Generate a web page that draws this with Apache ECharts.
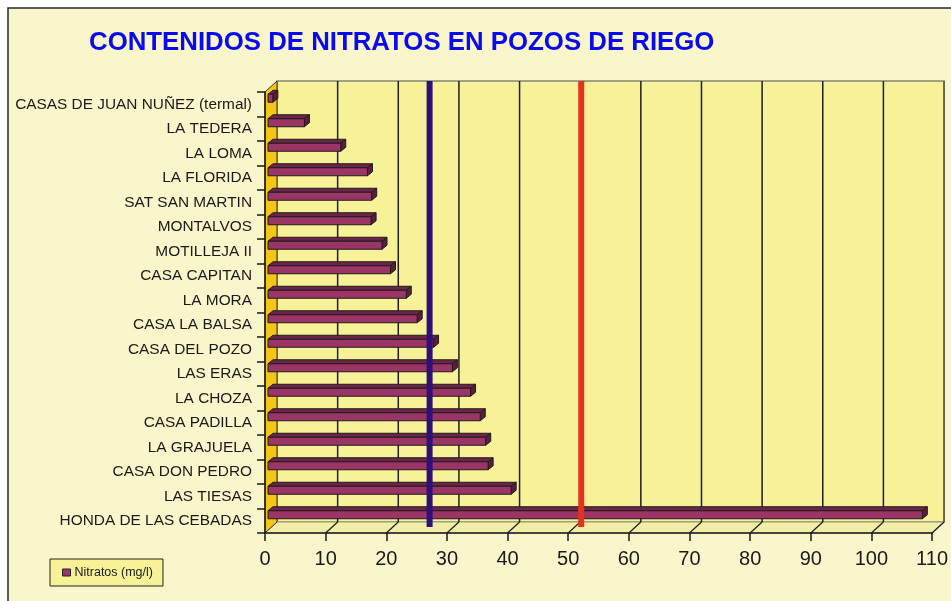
<!DOCTYPE html>
<html>
<head>
<meta charset="utf-8">
<script src="https://cdn.jsdelivr.net/npm/echarts@6/dist/echarts.min.js"></script>
<style>
  html, body { margin: 0; padding: 0; background: #fff; overflow: hidden; }
  #chart { width: 951px; height: 601px; }
</style>
</head>
<body>
<div id="chart"></div>
<script>
// pozos, de arriba abajo
const categories = [
  'CASAS DE JUAN NUÑEZ (termal)', 'LA TEDERA', 'LA LOMA', 'LA FLORIDA',
  'SAT SAN MARTIN', 'MONTALVOS', 'MOTILLEJA II', 'CASA CAPITAN', 'LA MORA',
  'CASA LA BALSA', 'CASA DEL POZO', 'LAS ERAS', 'LA CHOZA', 'CASA PADILLA',
  'LA GRAJUELA', 'CASA DON PEDRO', 'LAS TIESAS', 'HONDA DE LAS CEBADAS'
]
// nitratos (mg/l)
const nitratos = [
  0.8, 6, 12, 16.4, 17.1, 17, 18.8, 20.2, 22.8,
  24.6, 27.3, 30.4, 33.4, 35, 35.9, 36.3, 40.1, 107.9
]
// lineas de referencia (nivel guia y limite)
const guideLevels = [25, 50]
const guideColors = ['#2E1078', '#E3331F']

const X_MIN = 0, X_MAX = 110, X_STEP = 10

// profundidad del "3D"
const DX = 12, DY = -11
const BAR_SHIFT_X = 3, BAR_SHIFT_Y = -6, BAR_H = 8
const BAR_DX = 5, BAR_DY = -4

const FONT = "'Liberation Sans', Arial, sans-serif"

const chart = echarts.init(document.getElementById('chart'))

// paredes, suelo y rejilla
function renderScene(params, api) {
  const cs = params.coordSys
  const x0 = cs.x, y0 = cs.y, x1 = cs.x + cs.width, y1 = cs.y + cs.height
  const children = []
  children.push({
    type: 'rect',
    shape: { x: x0 + DX, y: y0 + DY, width: cs.width, height: cs.height },
    style: { fill: '#F7F297', stroke: '#85857a', lineWidth: 1.5 }
  })
  children.push({
    type: 'polygon',
    shape: { points: [[x0, y1], [x1, y1], [x1 + DX, y1 + DY], [x0 + DX, y1 + DY]] },
    style: { fill: '#F3EEA6', stroke: '#9a9a8c', lineWidth: 1 }
  })
  for (let v = X_MIN + X_STEP; v <= X_MAX; v += X_STEP) {
    const px = api.coord([v, 0])[0]
    children.push({
      type: 'line',
      shape: { x1: px + DX, y1: y0 + DY, x2: px + DX, y2: y1 + DY },
      style: { stroke: v === X_MAX ? '#55554c' : '#1e1e1e', lineWidth: 1.5 }
    })
    children.push({
      type: 'line',
      shape: { x1: px, y1: y1, x2: px + DX, y2: y1 + DY },
      style: { stroke: '#1e1e1e', lineWidth: 1.2 }
    })
  }
  children.push({
    type: 'polygon',
    shape: { points: [[x0, y0], [x0 + DX, y0 + DY], [x0 + DX, y1 + DY], [x0, y1]] },
    style: { fill: '#F5C518', stroke: '#333', lineWidth: 1 }
  })
  return { type: 'group', children }
}

// barra con cara frontal, superior y final
function renderBar(params, api) {
  const v = api.value(0), idx = api.value(1)
  const start = api.coord([0, idx])
  const end = api.coord([v, idx])
  const xl = start[0] + BAR_SHIFT_X, xr = end[0] + BAR_SHIFT_X
  const yc = start[1] + BAR_SHIFT_Y
  const yt = yc - BAR_H / 2, yb = yc + BAR_H / 2
  const edge = { stroke: '#1c1c1c', lineWidth: 1, lineJoin: 'round' }
  return {
    type: 'group',
    children: [
      {
        type: 'polygon',
        shape: { points: [[xl, yt], [xr, yt], [xr + BAR_DX, yt + BAR_DY], [xl + BAR_DX, yt + BAR_DY]] },
        style: Object.assign({ fill: '#6E2449' }, edge)
      },
      {
        type: 'polygon',
        shape: { points: [[xr, yt], [xr + BAR_DX, yt + BAR_DY], [xr + BAR_DX, yb + BAR_DY], [xr, yb]] },
        style: Object.assign({ fill: '#5A1D3C' }, edge)
      },
      {
        type: 'rect',
        shape: { x: xl, y: yt, width: xr - xl, height: BAR_H },
        style: Object.assign({ fill: '#9B3565' }, edge)
      }
    ]
  }
}

// lineas verticales de referencia
function renderGuide(params, api) {
  const cs = params.coordSys
  const px = api.coord([api.value(0), 0])[0] + DX + 1
  return {
    type: 'line',
    shape: { x1: px, y1: cs.y + DY, x2: px, y2: cs.y + cs.height - 6 },
    style: { stroke: guideColors[params.dataIndex], lineWidth: 6 }
  }
}

const option = {
  animation: false,
  backgroundColor: '#fff',
  graphic: [{
    type: 'rect',
    z: -10,
    shape: { x: 8, y: 8, width: 980, height: 640 },
    style: { fill: '#FAF6CB', stroke: '#2a2a2a', lineWidth: 1.5 }
  }],
  title: {
    text: 'CONTENIDOS DE NITRATOS EN POZOS DE RIEGO',
    left: 89,
    top: 30,
    padding: 0,
    textStyle: { color: '#0A0AF0', fontSize: 25.8, fontWeight: 'bold', fontFamily: FONT }
  },
  legend: {
    left: 50,
    top: 559,
    padding: [7, 10, 7, 12],
    itemWidth: 8,
    itemHeight: 7,
    itemGap: 4,
    backgroundColor: '#F7F297',
    borderColor: '#222',
    borderWidth: 1,
    textStyle: { color: '#1a1a1a', fontSize: 12.5, fontFamily: FONT, padding: [0, 0, 0, -1] },
    data: [{
      name: 'Nitratos (mg/l)',
      icon: 'rect',
      itemStyle: { color: '#9B3565', borderColor: '#222', borderWidth: 1 }
    }]
  },
  grid: { left: 265, right: 13, top: 92, bottom: 68 },
  xAxis: {
    type: 'value',
    min: X_MIN,
    max: X_MAX,
    interval: X_STEP,
    z: 10,
    axisLine: { show: true, lineStyle: { color: '#1a1a1a', width: 1.5 } },
    axisTick: { show: true, length: 8, lineStyle: { color: '#1a1a1a', width: 1.5 } },
    splitLine: { show: false },
    axisLabel: { color: '#1a1a1a', fontSize: 20, fontFamily: FONT, margin: 16 }
  },
  yAxis: {
    type: 'category',
    data: categories,
    inverse: true,
    z: 10,
    axisLine: { show: true, lineStyle: { color: '#1a1a1a', width: 1.5 } },
    axisTick: { show: true, length: 8, alignWithLabel: false, lineStyle: { color: '#1a1a1a', width: 1.5 } },
    splitLine: { show: false },
    axisLabel: { color: '#1a1a1a', fontSize: 15.4, fontFamily: FONT, margin: 13 }
  },
  series: [
    {
      type: 'custom',
      name: 'escena',
      z: 1,
      silent: true,
      renderItem: renderScene,
      data: [[0, 0]]
    },
    {
      type: 'custom',
      name: 'Nitratos (mg/l)',
      z: 3,
      itemStyle: { color: '#9B3565' },
      renderItem: renderBar,
      data: nitratos.map((v, i) => [v, i])
    },
    {
      type: 'custom',
      name: 'referencia',
      z: 5,
      silent: true,
      renderItem: renderGuide,
      data: guideLevels.map((v, i) => [v, 0])
    }
  ]
}

chart.setOption(option)
</script>
</body>
</html>
